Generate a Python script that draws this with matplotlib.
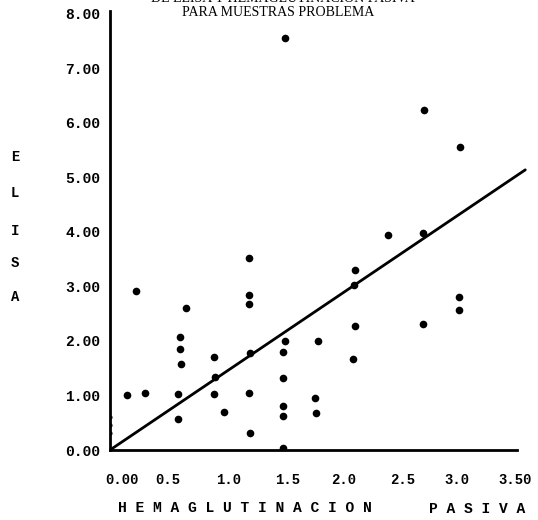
import matplotlib
matplotlib.use("Agg")
import matplotlib.pyplot as plt
from matplotlib.transforms import ScaledTranslation

# ELISA vs hemaglutinacion pasiva, muestras problema
hemag = [0.14, 0.22, 0.30, 0.58, 0.58, 0.59, 0.59, 0.60, 0.64,
         0.88, 0.88, 0.97, 0.89,
         1.18, 1.18, 1.18, 1.19, 1.18, 1.19,
         1.48, 1.48, 1.47, 1.47, 1.47, 1.47, 1.47,
         1.76, 1.74, 1.75,
         2.08, 2.07, 2.08, 2.06,
         2.36, 2.65, 2.66, 2.65,
         2.97, 2.96, 2.96]
elisa = [1.01, 2.92, 1.05, 1.03, 0.57, 2.07, 1.85, 1.58, 2.61,
         1.71, 1.03, 0.70, 1.34,
         3.52, 2.84, 2.68, 1.78, 1.05, 0.31,
         7.56, 2.00, 1.80, 1.32, 0.81, 0.62, 0.04,
         2.00, 0.95, 0.68,
         3.30, 3.03, 2.28, 1.67,
         3.94, 3.98, 6.24, 2.31,
         5.56, 2.81, 2.57]
zero_x = [0.0, 0.0, 0.0]
zero_y = [0.60, 0.46, 0.31]

# recta de regresion (extremos)
fit_x = [0.0, 3.52]
fit_y = [0.0, 5.14]

xticks = [0.0, 0.5, 1.0, 1.5, 2.0, 2.5, 3.0, 3.5]
xlabels = ["0.00", "0.5", "1.0", "1.5", "2.0", "2.5", "3.0", "3.50"]
yticks = [0, 1, 2, 3, 4, 5, 6, 7, 8]
ylabels = ["0.00", "1.00", "2.00", "3.00", "4.00", "5.00", "6.00", "7.00", "8.00"]

mono = "Liberation Mono"

fig = plt.figure(figsize=(5.38, 5.2), dpi=100)
ax = fig.add_axes([110 / 538, 70 / 520, 420 / 538, 441.5 / 520])

ax.plot(fit_x, fit_y, color="black", lw=2.0, solid_capstyle="round")
ax.plot(hemag, elisa, "o", color="black", markersize=5.5, markeredgewidth=0)
ax.plot(zero_x, zero_y, "o", color="black", markersize=3, markeredgewidth=0)

ax.set_xlim(0, 3.56)
ax.set_ylim(0, 8.1)
for s in ["top", "right"]:
    ax.spines[s].set_visible(False)
ax.spines["left"].set_linewidth(2.0)
ax.spines["bottom"].set_linewidth(2.0)
ax.spines["left"].set_bounds(0, 8.05)
ax.spines["bottom"].set_bounds(0, 3.45)

ax.set_xticks(xticks)
ax.set_xticklabels(xlabels, fontfamily=mono, fontweight="bold", fontsize=10)
ax.set_yticks(yticks)
ax.set_yticklabels(ylabels, fontfamily=mono, fontweight="bold", fontsize=10.5)
ax.tick_params(axis="both", length=0)
ax.tick_params(axis="x", pad=16.5)
ax.tick_params(axis="y", pad=7)

# pequenos corrimientos de las etiquetas como en el original (px)
shifts = [12, -1, 1, 1, -2, -2, -7, -8]
for lab, dx in zip(ax.get_xticklabels(), shifts):
    lab.set_transform(lab.get_transform() + ScaledTranslation(dx / 100, 0, fig.dpi_scale_trans))

# titulo (primera linea cortada en el original)
fig.text(415 / 538, 1 - 5 / 520, "DE ELISA Y HEMAGLUTINACION PASIVA",
         ha="right", va="bottom", fontfamily="Liberation Serif", fontsize=10)
fig.text(278 / 538, 1 - 13 / 520, "PARA MUESTRAS PROBLEMA",
         ha="center", va="center", fontfamily="Liberation Serif", fontsize=10)

# etiqueta vertical ELISA
for ch, py in zip("ELISA", [157, 193, 231, 263, 297]):
    fig.text(15 / 538, 1 - py / 520, ch, ha="center", va="center",
             fontfamily=mono, fontweight="bold", fontsize=10)

fig.text(245 / 538, 1 - 508 / 520, "H E M A G L U T I N A C I O N",
         ha="center", va="center", fontfamily=mono, fontweight="bold", fontsize=10.5)
fig.text(477 / 538, 1 - 509 / 520, "P A S I V A",
         ha="center", va="center", fontfamily=mono, fontweight="bold", fontsize=10.5)

fig.savefig("out.png", dpi=100)
